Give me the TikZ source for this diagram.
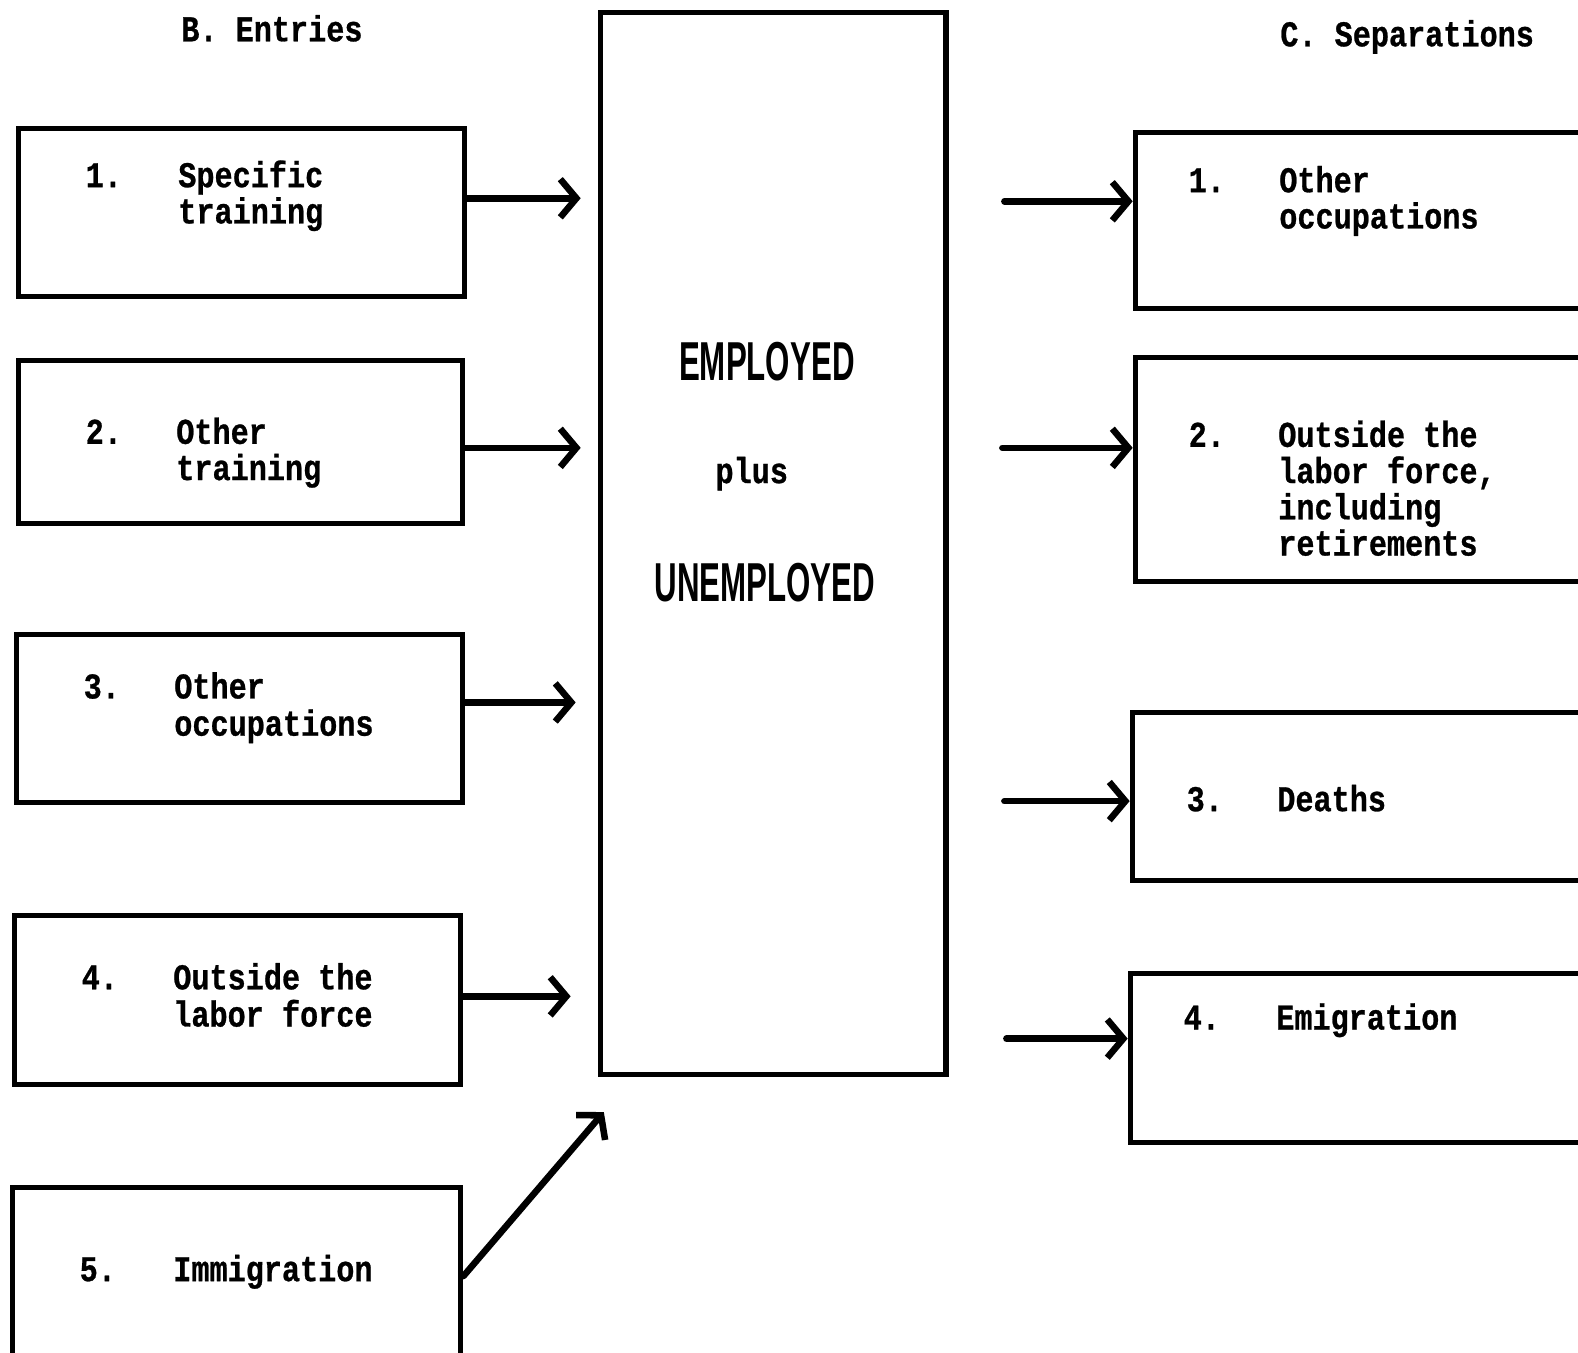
\documentclass[tikz,border=0pt]{standalone}
\usepackage{fontspec}
\usepackage{graphicx}
\usetikzlibrary{arrows.meta,calc}
\newfontfamily\twfont{Liberation Mono}[BoldFeatures={FakeBold=0.8}]
\newfontfamily\gothfont{Liberation Sans}
\newcommand{\tw}[1]{\scalebox{1}[1.2]{#1}}
\newcommand{\bigcond}[1]{\scalebox{0.57}[1]{#1}}
\tikzset{
  box/.style={draw, line width=5pt, rectangle, inner sep=0pt},
  tw/.style={anchor=base west, inner sep=0pt, font=\twfont\bfseries\fontsize{30}{36}\selectfont},
  big/.style={anchor=base, inner sep=0pt, font=\gothfont\bfseries\fontsize{54.5}{60}\selectfont},
  arr/.style={line width=6.5pt, line cap=round, line join=round, -{Straight Barb[length=16pt,width=38pt]}}
}
\begin{document}
\begin{tikzpicture}[x=1pt,y=-1pt]
\useasboundingbox (0,0) rectangle (1568,1344);
\fill[white] (0,0) rectangle (1568,1344);
\clip (0,0) rectangle (1568,1344);

% headers
\node[tw] (hB) at (180,41) {\tw{B. Entries}};
\node[tw] (hC) at (1272,46) {\tw{C. Separations}};

% left boxes
\node[box, minimum width=444pt, minimum height=167pt] (L1) at (240,211.5) {};
\node[box, minimum width=442pt, minimum height=162pt] (L2) at (239,439) {};
\node[box, minimum width=444pt, minimum height=167pt] (L3) at (238,713.5) {};
\node[box, minimum width=444pt, minimum height=168pt] (L4) at (236,994) {};
\node[box, minimum width=446pt, minimum height=170pt] (L5) at (235,1265) {};

% centre box
\node[box, minimum width=343pt, minimum height=1056pt] (C) at (768.5,540) {};

% right boxes
\node[box, minimum width=472pt, minimum height=175pt] (R1) at (1364,219.5) {};
\node[box, minimum width=472pt, minimum height=223pt] (R2) at (1364,466.5) {};
\node[box, minimum width=475pt, minimum height=167pt] (R3) at (1362.5,791.5) {};
\node[box, minimum width=477pt, minimum height=168pt] (R4) at (1361.5,1051) {};

% left texts
\node[tw] (t1n) at (85,186) {\tw{1.}};
\node[tw] (t1a) at (177,186) {\tw{Specific}};
\node[tw] (t1b) at (177,222) {\tw{training}};
\node[tw] (t2n) at (85,441) {\tw{2.}};
\node[tw] (t2a) at (175,441) {\tw{Other}};
\node[tw] (t2b) at (175,477) {\tw{training}};
\node[tw] (t3n) at (83,694) {\tw{3.}};
\node[tw] (t3a) at (173,694) {\tw{Other}};
\node[tw] (t3b) at (173,731) {\tw{occupations}};
\node[tw] (t4n) at (81,983) {\tw{4.}};
\node[tw] (t4a) at (172,983) {\tw{Outside the}};
\node[tw] (t4b) at (172,1020) {\tw{labor force}};
\node[tw] (t5n) at (79,1273) {\tw{5.}};
\node[tw] (t5a) at (172,1273) {\tw{Immigration}};

% centre texts
\node[big] (emp) at (762,378) {\bigcond{EMPLOYED}};
\node[tw, anchor=base] (plus) at (747,480) {\tw{plus}};
\node[big] (unemp) at (760,598) {\bigcond{UNEMPLOYED}};

% right texts
\node[tw] (r1n) at (1181,191) {\tw{1.}};
\node[tw] (r1a) at (1271,191) {\tw{Other}};
\node[tw] (r1b) at (1271,227) {\tw{occupations}};
\node[tw] (r2n) at (1181,444) {\tw{2.}};
\node[tw] (r2a) at (1270,444) {\tw{Outside the}};
\node[tw] (r2b) at (1270,480) {\tw{labor force,}};
\node[tw] (r2c) at (1270,516) {\tw{including}};
\node[tw] (r2d) at (1270,552) {\tw{retirements}};
\node[tw] (r3n) at (1179,806) {\tw{3.}};
\node[tw] (r3a) at (1269,806) {\tw{Deaths}};
\node[tw] (r4n) at (1176,1023) {\tw{4.}};
\node[tw] (r4a) at (1268,1023) {\tw{Emigration}};

% arrow end points
\coordinate (a1) at (577,197);
\coordinate (a2) at (577,445);
\coordinate (a3) at (572,698);
\coordinate (a4) at (567,990);
\coordinate (a5) at (600,1105);
\coordinate (s1) at (998,200);
\coordinate (s2) at (996,445);
\coordinate (s3) at (998,796);
\coordinate (s4) at (1000,1032);

% entry arrows
\draw[arr] (L1.east |- a1) -- (a1);
\draw[arr] (L2.east |- a2) -- (a2);
\draw[arr] (L3.east |- a3) -- (a3);
\draw[arr] (L4.east |- a4) -- (a4);
\draw[arr] ([yshift=-3pt]L5.east) -- (a5);

% separation arrows
\draw[arr] (s1) -- (s1 -| R1.west);
\draw[arr] (s2) -- (s2 -| R2.west);
\draw[arr] (s3) -- (s3 -| R3.west);
\draw[arr] (s4) -- (s4 -| R4.west);
\end{tikzpicture}
\end{document}
